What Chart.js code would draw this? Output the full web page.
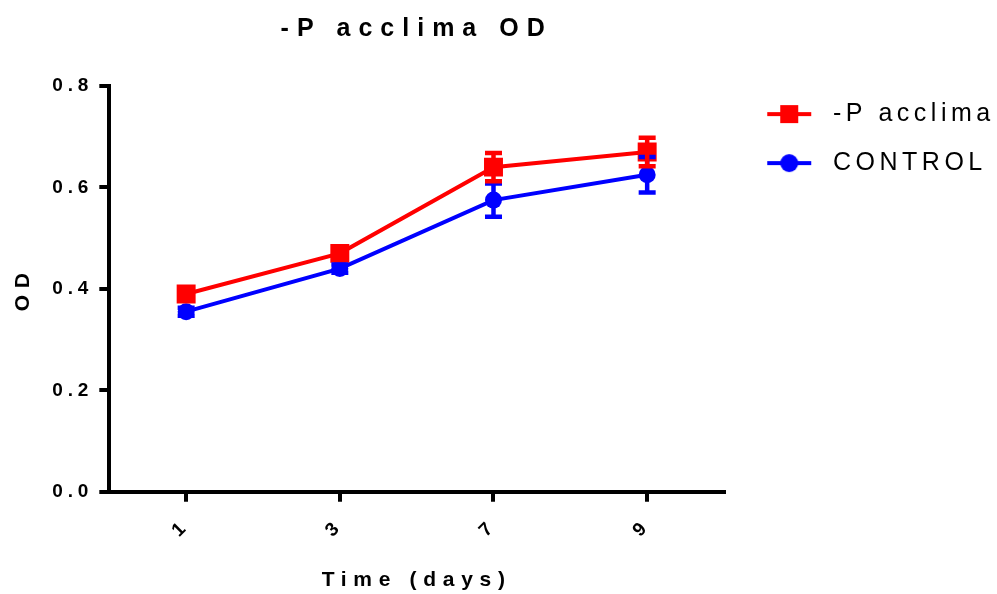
<!DOCTYPE html>
<html>
<head>
  <script src="https://cdn.jsdelivr.net/npm/chart.js"></script>
  <style>
    body { margin: 0; background: #fff; }
  </style>
</head>
<body>
  <canvas id="odChart" width="997" height="594"></canvas>
<script>
  // Sampling days and OD means (+/- error) for each culture
  var days = ['1', '3', '7', '9'];
  var acclimaOD = [0.39, 0.47, 0.64, 0.67];
  var acclimaErr = [0.012, 0.01, 0.028, 0.028];
  var controlOD = [0.355, 0.44, 0.575, 0.625];
  var controlErr = [0.008, 0.008, 0.033, 0.035];
  var yTicks = [0, 0.2, 0.4, 0.6, 0.8];
  var errors = [acclimaErr, controlErr];

  var RED = 'rgb(255, 0, 0)';
  var BLUE = 'rgb(0, 0, 255)';
  var FONT = '"Liberation Sans", Arial, sans-serif';

  var canvas = document.getElementById('odChart');
  var ctx = canvas.getContext('2d');

  // The original figure has very wide letter spacing; apply it whenever a font is set
  var fontDesc = Object.getOwnPropertyDescriptor(CanvasRenderingContext2D.prototype, 'font');
  Object.defineProperty(ctx, 'font', {
    configurable: true,
    get: function() { return fontDesc.get.call(this); },
    set: function(v) {
      fontDesc.set.call(this, v);
      var m = /(\d+(?:\.\d+)?)px/.exec(v);
      var size = m ? parseFloat(m[1]) : 12;
      var ratio = /bold|700/.test(v) ? (size < 20 ? 0.26 : 0.32) : 0.18;
      this.letterSpacing = (size * ratio).toFixed(1) + 'px';
    }
  });

  // legend icons: line with marker
  function legendIcon(color, shape) {
    var c = document.createElement('canvas');
    c.width = 60; c.height = 22;
    var g = c.getContext('2d');
    g.strokeStyle = color;
    g.fillStyle = color;
    g.lineWidth = 4;
    g.beginPath(); g.moveTo(13, 11); g.lineTo(57, 11); g.stroke();
    if (shape === 'square') {
      g.fillRect(26, 2, 18, 18);
    } else {
      g.beginPath(); g.arc(35, 11, 9, 0, Math.PI * 2); g.fill();
    }
    return c;
  }
  var icons = [legendIcon(RED, 'square'), legendIcon(BLUE, 'circle')];

  // error bars drawn on top of the lines and markers
  var errorBars = {
    id: 'errorBars',
    afterDatasetsDraw: function(chart) {
      var g = chart.ctx, y = chart.scales.y;
      [1, 0].forEach(function(di) {
        var meta = chart.getDatasetMeta(di);
        var ds = chart.data.datasets[di];
        g.save();
        g.strokeStyle = ds.borderColor;
        g.lineWidth = 4.5;
        meta.data.forEach(function(pt, i) {
          var top = y.getPixelForValue(ds.data[i] + errors[di][i]);
          var bot = y.getPixelForValue(ds.data[i] - errors[di][i]);
          g.beginPath();
          g.moveTo(pt.x, top); g.lineTo(pt.x, bot);
          g.moveTo(pt.x - 8.5, top); g.lineTo(pt.x + 8.5, top);
          g.moveTo(pt.x - 8.5, bot); g.lineTo(pt.x + 8.5, bot);
          g.stroke();
        });
        g.restore();
      });
    }
  };

  Chart.defaults.color = '#000';
  Chart.defaults.font.family = FONT;

  var axisGrid = {
    drawOnChartArea: false,
    drawTicks: true,
    tickLength: 10,
    tickWidth: 4,
    tickColor: '#000',
    color: '#000',
    lineWidth: 4
  };

  var odChart = new Chart(ctx, {
    type: 'line',
    data: {
      labels: days,
      datasets: [
        {
          label: '-P acclima',
          data: acclimaOD,
          borderColor: RED,
          backgroundColor: RED,
          borderWidth: 4,
          pointStyle: 'rect',
          pointRadius: 13.4,
          pointHoverRadius: 13.4,
          pointBorderWidth: 0,
          tension: 0
        },
        {
          label: 'CONTROL',
          data: controlOD,
          borderColor: BLUE,
          backgroundColor: BLUE,
          borderWidth: 4,
          pointStyle: 'circle',
          pointRadius: 8.5,
          pointHoverRadius: 8.5,
          pointBorderWidth: 0,
          tension: 0
        }
      ]
    },
    options: {
      responsive: false,
      animation: false,
      layout: {
        padding: { left: 11, right: 0, top: 0, bottom: 1 }
      },
      scales: {
        x: {
          offset: true,
          grid: Object.assign({ offset: false }, axisGrid),
          border: { color: '#000', width: 4 },
          ticks: {
            font: { size: 19, weight: 'bold' },
            minRotation: 45,
            maxRotation: 45,
            padding: 13
          },
          title: {
            display: true,
            text: 'Time (days)',
            font: { size: 21, weight: 'bold' },
            padding: { top: 13, bottom: 0 }
          }
        },
        y: {
          min: 0,
          max: 0.8,
          afterBuildTicks: function(scale) {
            scale.ticks = yTicks.map(function(v) { return { value: v }; });
          },
          grid: axisGrid,
          border: { color: '#000', width: 4 },
          ticks: {
            font: { size: 19, weight: 'bold' },
            padding: 6,
            callback: function(v) { return Number(v).toFixed(1); }
          },
          title: {
            display: true,
            text: 'OD',
            font: { size: 21, weight: 'bold' },
            padding: { top: 0, bottom: 10 }
          }
        }
      },
      plugins: {
        title: {
          display: true,
          text: '-P acclima OD',
          fullSize: false,
          font: { size: 25, weight: 'bold' },
          padding: { top: 14, bottom: 42 }
        },
        legend: {
          display: true,
          position: 'right',
          align: 'start',
          maxWidth: 273,
          title: {
            display: true,
            text: '',
            font: { size: 8 },
            padding: { top: 68, bottom: 0 }
          },
          labels: {
            usePointStyle: true,
            pointStyleWidth: 72.5,
            padding: 24,
            font: { size: 25 },
            generateLabels: function(chart) {
              return chart.data.datasets.map(function(ds, i) {
                return {
                  text: ds.label,
                  pointStyle: icons[i],
                  fillStyle: ds.borderColor,
                  strokeStyle: ds.borderColor,
                  lineWidth: 0,
                  hidden: false,
                  datasetIndex: i
                };
              });
            }
          }
        },
        tooltip: { enabled: false }
      }
    },
    plugins: [errorBars]
  });
</script>
</body>
</html>
